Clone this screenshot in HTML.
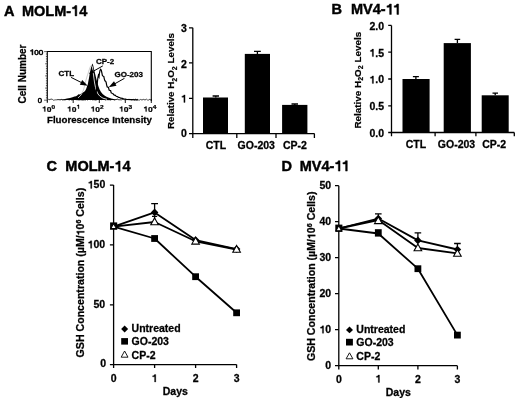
<!DOCTYPE html>
<html><head><meta charset="utf-8">
<style>
html,body{margin:0;padding:0;background:#fff;}
body{width:520px;height:402px;overflow:hidden;}
svg{display:block;filter:grayscale(1);}
text{font-family:"Liberation Sans",sans-serif;font-weight:bold;fill:#000;stroke:#000;stroke-width:0.28px;}
.t{font-size:14.5px;stroke-width:0.45px;}
.l{font-size:10.5px;}
.s{font-size:9px;}
.ax{stroke:#000;stroke-width:1.3;fill:none;}
.h1{fill:none;stroke:none;}
.p1{fill:#000;stroke:#000;}
.ln{stroke:#000;stroke-width:1.8;fill:none;stroke-linejoin:round;}
</style></head>
<body>
<svg width="520" height="402" viewBox="0 0 520 402">
<!-- Titles -->
<text class="t" x="4" y="15.9">A</text>
<text class="t" x="22" y="15.9">MOLM-<tspan class="h1">1</tspan>4</text><g><path d="M392 0L274 0L274 -490L88 -490L88 -592C190 -598 252 -632 268 -716L392 -716Z" transform="translate(71.13,15.90) scale(0.01450)" stroke-width="31.0" class="p1"></path></g>
<text class="t" x="331.5" y="14.4">B</text>
<text class="t" x="351" y="14.4">MV4-<tspan class="h1">1</tspan><tspan class="h1">1</tspan></text><g><path d="M392 0L274 0L274 -490L88 -490L88 -592C190 -598 252 -632 268 -716L392 -716Z" transform="translate(385.66,14.40) scale(0.01450)" stroke-width="31.0" class="p1"></path><path d="M392 0L274 0L274 -490L88 -490L88 -592C190 -598 252 -632 268 -716L392 -716Z" transform="translate(392.92,14.40) scale(0.01450)" stroke-width="31.0" class="p1"></path></g>
<text class="t" x="46.5" y="171.4">C</text>
<text class="t" x="65.3" y="171.4">MOLM-<tspan class="h1">1</tspan>4</text><g><path d="M392 0L274 0L274 -490L88 -490L88 -592C190 -598 252 -632 268 -716L392 -716Z" transform="translate(114.43,171.40) scale(0.01450)" stroke-width="31.0" class="p1"></path></g>
<text class="t" x="281.5" y="171.1">D</text>
<text class="t" x="299.7" y="171.1">MV4-<tspan class="h1">1</tspan><tspan class="h1">1</tspan></text><g><path d="M392 0L274 0L274 -490L88 -490L88 -592C190 -598 252 -632 268 -716L392 -716Z" transform="translate(334.36,171.10) scale(0.01450)" stroke-width="31.0" class="p1"></path><path d="M392 0L274 0L274 -490L88 -490L88 -592C190 -598 252 -632 268 -716L392 -716Z" transform="translate(341.62,171.10) scale(0.01450)" stroke-width="31.0" class="p1"></path></g>

<!-- ===== Panel A histogram ===== -->
<g>
<path d="M47.3 102.8V51.5H151.3V101" stroke="#000" stroke-width="1.1" fill="none"></path>
<path d="M44.1 51.6H47.3M45.9 54.0H47.3M45.9 56.5H47.3M45.9 58.9H47.3M45.9 61.3H47.3M45.1 63.8H47.3M45.9 66.2H47.3M45.9 68.6H47.3M45.9 71.0H47.3M45.9 73.5H47.3M45.1 75.9H47.3M45.9 78.3H47.3M45.9 80.8H47.3M45.9 83.2H47.3M45.9 85.6H47.3M45.1 88.1H47.3M45.9 90.5H47.3M45.9 92.9H47.3M45.9 95.3H47.3M45.9 97.8H47.3M44.1 100.2H47.3" stroke="#222" stroke-width="0.7"></path>
<path d="M47.3 99.6L47.5 99.3 L48.7 99.4 L50.0 99.8 L50.9 99.0 L52.3 99.3 L53.3 100.2 L54.5 100.0 L55.7 99.8 L56.6 99.8 L58.1 99.6 L59.5 99.8 L60.3 99.9 L61.6 99.4 L62.4 100.0 L63.6 99.9 L65.1 99.9 L66.7 99.5 L68.1 99.5 L69.6 100.1 L70.5 99.2 L71.5 100.2 L72.7 99.8 L73.7 99.6 L74.8 99.4 L76.1 99.7 L77.6 99.8 L79.1 100.0 L80.7 99.8 L81.7 100.0 L83.2 100.1 L84.5 99.9 L85.5 100.0 L86.7 99.3 L87.6 100.0 L89.2 99.1 L90.6 99.5 L91.5 99.4 L92.9 100.0 L93.8 99.7 L94.6 99.9 L95.7 100.1 L97.3 99.6 L98.9 99.4 L99.7 99.7 L100.5 99.2 L101.7 99.7 L102.6 99.1 L104.1 99.4 L105.6 100.1 L106.8 99.6 L108.0 99.8 L109.2 99.7 L110.5 100.1 L111.7 99.5 L113.1 99.3 L114.2 100.2 L115.4 99.7 L116.2 99.5 L117.5 99.0 L118.7 99.8 L119.6 99.8 L120.8 99.8 L121.8 99.8 L123.2 99.0 L124.1 99.8 L125.7 99.3 L126.8 99.7 L127.9 99.4 L128.9 99.4 L130.2 99.4 L131.3 99.9 L132.1 99.7 L133.5 99.4 L134.5 100.0 L135.5 99.2 L136.6 99.8 L137.5 99.4 L138.6 100.0 L139.7 100.0 L140.7 99.4 L142.0 100.1 L143.2 99.3 L144.0 99.6 L145.0 100.0 L146.5 99.2 L147.5 100.0 L148.8 100.0 L149.9 99.2 L150.9 100.0 L151.3 99.8" stroke="#444" stroke-width="1" fill="none"></path>
<path d="M73.2 99V103M99.3 99V103M125.3 99V103M151.3 99V103" stroke="#000" stroke-width="0.9"></path>
<!-- CTL filled -->
<path d="M56 100 L60 99.6 L64 99.2 L67 98.6 L70 98 L72.5 97.3 L74.5 96.6 L76 96.2 L77.5 95.3 L78.5 94.2 L80 94.6 L81.5 93.2 L83 92.6 L84.5 91.5 L85.5 90.3 L86.3 88.5 L87 86.5 L87.8 84.2 L88.4 81 L89 78 L89.6 74.5 L90.3 71 L91 67.5 L91.8 65 L92.5 63.6 L93.2 65.5 L93.9 68.5 L94.6 71.5 L95.3 74.5 L96 77.5 L96.8 80.5 L97.6 83.5 L98.5 86.5 L99.6 89.5 L101 92 L102.6 94 L104.5 95.6 L106.5 96.8 L109 97.8 L112 98.8 L116 99.5 L122 99.9 Z" fill="#000"></path>
<!-- CP-2 outline (gray/white) -->
<path d="M78 98 L81 95 L83.5 90 L85 84 L86 80 L87.2 76 L88.5 72 L89.8 68 L90.8 65.6" stroke="#c8c8c8" stroke-width="0.9" fill="none"></path>
<path d="M91.8 65.5 L92.6 68 L93.2 72.5 L93.9 78 L94.6 83 L95.5 87.5 L96.6 91 L98 94 L100 96.3 L103 98.2 L107 99.3" stroke="#e8e8e8" stroke-width="0.9" fill="none"></path>
<!-- GO-203 outline -->
<path d="M90 99.6 L93 98.8 L95 97 L96.2 92 L96.8 87.5 L97.4 82 L97.9 77.5 L98.4 75.3 L99 76.8 L99.5 73 L100 70.5 L100.7 69.4 L101.3 70.2 L101.8 72.5 L102.4 75.5 L103.2 76.2 L103.8 76.4 L104.3 78.8 L104.9 80.8 L105.6 81.2 L106.1 82.2 L106.6 84.8 L107.2 86.9 L107.9 87.1 L108.5 87.6 L109.1 90.1 L109.8 90.4 L110.6 90.6 L111.2 92.8 L112 93.3 L112.9 93.5 L113.5 94.6 L114.4 95.2 L115.4 95.3 L116.2 96.3 L117.4 96.6 L118.6 97.4 L119.6 97.5 L120.6 98.2 L122.4 98.3 L123.4 98.8 L125 99 L127 99.5 L131 99.6 L138 99.8" stroke="#000" stroke-width="1.2" fill="none" stroke-linejoin="miter"></path>
<!-- arrows -->
<path d="M71.1 77.4 L81.9 82.8" stroke="#000" stroke-width="1"></path>
<path d="M87.7 85.7 L79.8 84.7 L82.2 80.0 Z" fill="#000"></path>
<path d="M102.8 65.9 L92.3 71.8" stroke="#000" stroke-width="1"></path>
<path d="M88.8 73.8 L92.2 69.6 L94.1 73.1 Z" fill="#000"></path>
<path d="M124.5 78.3 L114.4 84.0" stroke="#000" stroke-width="1"></path>
<path d="M108.7 87.2 L114.0 81.3 L116.5 85.8 Z" fill="#000"></path>
<!-- labels -->
<text class="s" x="58.5" y="75.7" style="font-size:8px">CTL</text>
<text class="s" x="96" y="63.5" style="font-size:8px">CP-2</text>
<text class="s" x="114.5" y="76.9" style="font-size:8px">GO-203</text>
<text class="s" transform="translate(43.2,54.9) scale(0.95,0.88)" text-anchor="end" style="font-size:8.5px;font-weight:normal;stroke-width:0.6px"><tspan class="h1">1</tspan>00</text><g transform="translate(43.2,54.9) scale(0.95,0.88)"><path d="M392 0L274 0L274 -490L88 -490L88 -592C190 -598 252 -632 268 -716L392 -716Z" transform="translate(-14.16,0.00) scale(0.00850)" stroke-width="70.6" class="p1"></path></g>
<text class="s" transform="translate(42,102.7) scale(0.9,0.9)" text-anchor="end" style="font-size:8.5px;font-weight:normal;stroke-width:0.6px">0</text>
<g style="font-size:8.5px">
<text class="s" transform="translate(42,111.6) scale(1,0.82)" style="font-size:8.5px"><tspan class="h1">1</tspan>0<tspan dy="-3.6" style="font-size:6.5px">0</tspan></text><g transform="translate(42,111.6) scale(1,0.82)"><path d="M392 0L274 0L274 -490L88 -490L88 -592C190 -598 252 -632 268 -716L392 -716Z" transform="translate(0.00,0.00) scale(0.00850)" stroke-width="32.9" class="p1"></path></g>
<text class="s" transform="translate(67,111.6) scale(1,0.82)" style="font-size:8.5px"><tspan class="h1">1</tspan>0<tspan dy="-3.6" style="font-size:6.5px"><tspan class="h1">1</tspan></tspan></text><g transform="translate(67,111.6) scale(1,0.82)"><path d="M392 0L274 0L274 -490L88 -490L88 -592C190 -598 252 -632 268 -716L392 -716Z" transform="translate(0.00,0.00) scale(0.00850)" stroke-width="32.9" class="p1"></path><path d="M392 0L274 0L274 -490L88 -490L88 -592C190 -598 252 -632 268 -716L392 -716Z" transform="translate(9.47,-3.60) scale(0.00650)" stroke-width="43.1" class="p1"></path></g>
<text class="s" transform="translate(90.5,111.6) scale(1,0.82)" style="font-size:8.5px"><tspan class="h1">1</tspan>0<tspan dy="-3.6" style="font-size:6.5px">2</tspan></text><g transform="translate(90.5,111.6) scale(1,0.82)"><path d="M392 0L274 0L274 -490L88 -490L88 -592C190 -598 252 -632 268 -716L392 -716Z" transform="translate(0.00,0.00) scale(0.00850)" stroke-width="32.9" class="p1"></path></g>
<text class="s" transform="translate(119,111.6) scale(1,0.82)" style="font-size:8.5px"><tspan class="h1">1</tspan>0<tspan dy="-3.6" style="font-size:6.5px">3</tspan></text><g transform="translate(119,111.6) scale(1,0.82)"><path d="M392 0L274 0L274 -490L88 -490L88 -592C190 -598 252 -632 268 -716L392 -716Z" transform="translate(0.00,0.00) scale(0.00850)" stroke-width="32.9" class="p1"></path></g>
<text class="s" transform="translate(143.3,111.6) scale(1,0.82)" style="font-size:8.5px"><tspan class="h1">1</tspan>0<tspan dy="-3.6" style="font-size:6.5px">4</tspan></text><g transform="translate(143.3,111.6) scale(1,0.82)"><path d="M392 0L274 0L274 -490L88 -490L88 -592C190 -598 252 -632 268 -716L392 -716Z" transform="translate(0.00,0.00) scale(0.00850)" stroke-width="32.9" class="p1"></path></g>
</g>
<text class="l" x="47" y="123" style="font-size:9.7px">Fluorescence Intensity</text>
<text class="l" transform="translate(26.4,74) rotate(-90)" text-anchor="middle" style="font-size:10px">Cell Number</text>
</g>

<!-- ===== Panel A bar chart ===== -->
<g>
<path class="ax" d="M192.8 27.8V133.6H314.4"></path>
<path class="ax" d="M189 27.8H192.8M189 62.9H192.8M189 98.3H192.8M189 133.6H192.8"></path>
<path class="ax" d="M192.8 133.6V137.9M236.8 133.6V137.9M276 133.6V137.9M314.4 133.6V137.9"></path>
<rect x="203" y="97.5" width="25" height="36.1" fill="#000"></rect>
<rect x="244.8" y="53.9" width="25.2" height="79.7" fill="#000"></rect>
<rect x="282.1" y="104.9" width="25.3" height="28.7" fill="#000"></rect>
<path class="ax" d="M215.8 97.5V96M212.6 96H219"></path>
<path class="ax" d="M257.4 53.9V51.3M254 51.3H260.8"></path>
<path class="ax" d="M294.8 104.9V104M291.5 104H298"></path>
<text class="l" x="186.8" y="31.9" text-anchor="end">3</text>
<text class="l" x="186.8" y="67.5" text-anchor="end">2</text>
<text class="l" x="186.8" y="102.4" text-anchor="end"><tspan class="h1">1</tspan></text><g><path d="M392 0L274 0L274 -490L88 -490L88 -592C190 -598 252 -632 268 -716L392 -716Z" transform="translate(180.96,102.40) scale(0.01050)" stroke-width="26.7" class="p1"></path></g>
<text class="l" x="186.8" y="136.9" text-anchor="end">0</text>
<text class="l" x="216" y="148.8" text-anchor="middle">CTL</text>
<text class="l" x="256.3" y="148.8" text-anchor="middle">GO-203</text>
<text class="l" x="295" y="148.8" text-anchor="middle">CP-2</text>
<text class="l" transform="translate(174.3,81) rotate(-90)" text-anchor="middle" style="font-size:9.8px;stroke-width:0.2px">Relative H<tspan dy="2.5" style="font-size:7px">2</tspan><tspan dy="-2.5">O</tspan><tspan dy="2.5" style="font-size:7px">2</tspan><tspan dy="-2.5"> Levels</tspan></text>
</g>

<!-- ===== Panel B bar chart ===== -->
<g>
<path class="ax" d="M391.5 25.4V132.5H514.3"></path>
<path class="ax" d="M388.2 25.4H391.5M388.2 52.2H391.5M388.2 79H391.5M388.2 105.8H391.5M388.2 132.5H391.5"></path>
<path class="ax" d="M391.5 132.5V136.3M435.1 132.5V136.3M475.9 132.5V136.3M514.3 132.5V136.3"></path>
<rect x="402.5" y="79" width="27.1" height="53.5" fill="#000"></rect>
<rect x="443.7" y="43.1" width="27.2" height="89.4" fill="#000"></rect>
<rect x="481.7" y="95.3" width="27" height="37.2" fill="#000"></rect>
<path class="ax" d="M415.9 79V76.7M412.9 76.7H418.9"></path>
<path class="ax" d="M457.4 43.1V39.3M454.6 39.3H460.2"></path>
<path class="ax" d="M495.2 95.3V93.1M492.5 93.1H498"></path>
<text class="l" x="384" y="29.8" text-anchor="end">2.0</text>
<text class="l" x="384" y="56.6" text-anchor="end"><tspan class="h1">1</tspan>.5</text><g><path d="M392 0L274 0L274 -490L88 -490L88 -592C190 -598 252 -632 268 -716L392 -716Z" transform="translate(369.39,56.60) scale(0.01050)" stroke-width="26.7" class="p1"></path></g>
<text class="l" x="384" y="83.4" text-anchor="end"><tspan class="h1">1</tspan>.0</text><g><path d="M392 0L274 0L274 -490L88 -490L88 -592C190 -598 252 -632 268 -716L392 -716Z" transform="translate(369.39,83.40) scale(0.01050)" stroke-width="26.7" class="p1"></path></g>
<text class="l" x="384" y="110.2" text-anchor="end">0.5</text>
<text class="l" x="384" y="136.9" text-anchor="end">0.0</text>
<text class="l" x="416" y="147.5" text-anchor="middle">CTL</text>
<text class="l" x="456.5" y="147.5" text-anchor="middle">GO-203</text>
<text class="l" x="494.2" y="147.5" text-anchor="middle">CP-2</text>
<text class="l" transform="translate(360.5,80.2) rotate(-90)" text-anchor="middle" style="font-size:9.9px;stroke-width:0.2px">Relative H<tspan dy="2.5" style="font-size:7px">2</tspan><tspan dy="-2.5">O</tspan><tspan dy="2.5" style="font-size:7px">2</tspan><tspan dy="-2.5"> Levels</tspan></text>
</g>

<!-- ===== Panel C line chart ===== -->
<g>
<path class="ax" d="M113.6 185.1V364.6H236.6" stroke-width="1.5"></path>
<path class="ax" d="M109.9 185.1H113.6M109.9 244.9H113.6M109.9 304.8H113.6M109.9 364.6H113.6"></path>
<path class="ax" d="M113.6 364.6V367.9M154.6 364.6V367.9M195.6 364.6V367.9M236.6 364.6V367.9"></path>
<text class="l" x="105.3" y="188.4" text-anchor="end"><tspan class="h1">1</tspan>50</text><g><path d="M392 0L274 0L274 -490L88 -490L88 -592C190 -598 252 -632 268 -716L392 -716Z" transform="translate(87.77,188.40) scale(0.01050)" stroke-width="26.7" class="p1"></path></g>
<text class="l" x="105.2" y="248.3" text-anchor="end"><tspan class="h1">1</tspan>00</text><g><path d="M392 0L274 0L274 -490L88 -490L88 -592C190 -598 252 -632 268 -716L392 -716Z" transform="translate(87.67,248.30) scale(0.01050)" stroke-width="26.7" class="p1"></path></g>
<text class="l" x="105.2" y="307.6" text-anchor="end">50</text>
<text class="l" x="106" y="367.3" text-anchor="end">0</text>
<text class="l" x="113.6" y="382" text-anchor="middle">0</text>
<text class="l" x="154.6" y="382" text-anchor="middle"><tspan class="h1">1</tspan></text><g><path d="M392 0L274 0L274 -490L88 -490L88 -592C190 -598 252 -632 268 -716L392 -716Z" transform="translate(151.68,382.00) scale(0.01050)" stroke-width="26.7" class="p1"></path></g>
<text class="l" x="195.6" y="382" text-anchor="middle">2</text>
<text class="l" x="236.6" y="382" text-anchor="middle">3</text>
<text class="l" x="175.3" y="395" text-anchor="middle">Days</text>
<text class="l" transform="translate(84.3,272.6) rotate(-90)" text-anchor="middle" style="font-size:10.6px">GSH Concentration (µM/<tspan class="h1">1</tspan>0<tspan dy="-3.5" style="font-size:7px">6</tspan><tspan dy="3.5"> Cells)</tspan></text><g transform="translate(84.3,272.6) rotate(-90)"><path d="M392 0L274 0L274 -490L88 -490L88 -592C190 -598 252 -632 268 -716L392 -716Z" transform="translate(37.27,0.00) scale(0.01060)" stroke-width="26.4" class="p1"></path></g>
<!-- error bars -->
<path class="ax" d="M154.6 212.4V203.6M151.2 203.6H158" stroke-width="1.5"></path>
<path class="ax" d="M154.6 222V216.4M152 216.4H157.2"></path>
<!-- lines -->
<path class="ln" d="M113.6 226.6L154.6 212.4L195.6 240.1L236.6 249.1"></path>
<path class="ln" d="M113.6 226.6L154.6 238.5L195.6 276.7L236.6 312.8"></path>
<path class="ln" d="M113.6 226.6L154.6 222L195.6 241.3L236.6 249.5"></path>
<!-- markers: untreated diamonds -->
<g fill="#000">
<rect x="110.1" y="222.4" width="7.1" height="7.3"></rect>
<path d="M154.6 208.6L158.4 212.4L154.6 216.2L150.8 212.4Z"></path>
<path d="M195.6 236.3L199.4 240.1L195.6 243.9L191.8 240.1Z"></path>
<path d="M236.6 245.3L240.4 249.1L236.6 252.9L232.8 249.1Z"></path>
<rect x="151.2" y="235.1" width="6.8" height="6.8"></rect>
<rect x="192.2" y="273.3" width="6.8" height="6.8"></rect>
<rect x="233.2" y="309.4" width="6.8" height="6.8"></rect>
</g>
<g fill="#fff" stroke="#000" stroke-width="1.1">
<path d="M113.6 223.5L116.4 228.6H110.8Z"></path>
<path d="M154.6 218L158.4 224.8H150.8Z"></path>
<path d="M195.6 237.3L199.4 244.1H191.8Z"></path>
<path d="M236.6 245.5L240.4 252.3H232.8Z"></path>
</g>
<!-- legend -->
<path d="M124.6 325.6L128.1 329L124.6 332.4L121.1 329Z" fill="#000"></path>
<rect x="121.2" y="338.1" width="6.8" height="6.5" fill="#000"></rect>
<path d="M124.6 351L128 357.2H121.2Z" fill="#fff" stroke="#000" stroke-width="0.9"></path>
<text class="l" x="131.6" y="332.4">Untreated</text>
<text class="l" x="131.6" y="344.6">GO-203</text>
<text class="l" x="131.6" y="359">CP-2</text>
</g>

<!-- ===== Panel D line chart ===== -->
<g>
<path class="ax" d="M338.8 185.7V365.7H457.4" stroke-width="1.5"></path>
<path class="ax" d="M335 185.7H338.8M335 221.7H338.8M335 257.7H338.8M335 293.7H338.8M335 329.7H338.8M335 365.7H338.8"></path>
<path class="ax" d="M338.8 365.7V369.4M378.3 365.7V369.4M417.9 365.7V369.4M457.4 365.7V369.4"></path>
<text class="l" x="331.2" y="189.3" text-anchor="end">50</text>
<text class="l" x="331.2" y="225.3" text-anchor="end">40</text>
<text class="l" x="331.2" y="261.3" text-anchor="end">30</text>
<text class="l" x="331.2" y="297.3" text-anchor="end">20</text>
<text class="l" x="331.2" y="333.3" text-anchor="end"><tspan class="h1">1</tspan>0</text><g><path d="M392 0L274 0L274 -490L88 -490L88 -592C190 -598 252 -632 268 -716L392 -716Z" transform="translate(319.51,333.30) scale(0.01050)" stroke-width="26.7" class="p1"></path></g>
<text class="l" x="331.2" y="369.3" text-anchor="end">0</text>
<text class="l" x="338.8" y="382.5" text-anchor="middle">0</text>
<text class="l" x="378.3" y="382.5" text-anchor="middle"><tspan class="h1">1</tspan></text><g><path d="M392 0L274 0L274 -490L88 -490L88 -592C190 -598 252 -632 268 -716L392 -716Z" transform="translate(375.38,382.50) scale(0.01050)" stroke-width="26.7" class="p1"></path></g>
<text class="l" x="417.9" y="382.5" text-anchor="middle">2</text>
<text class="l" x="457.4" y="382.5" text-anchor="middle">3</text>
<text class="l" x="398.3" y="395.6" text-anchor="middle">Days</text>
<text class="l" transform="translate(315.3,276.3) rotate(-90)" text-anchor="middle" style="font-size:10.6px">GSH Concentration (µM/<tspan class="h1">1</tspan>0<tspan dy="-3.5" style="font-size:7px">6</tspan><tspan dy="3.5"> Cells)</tspan></text><g transform="translate(315.3,276.3) rotate(-90)"><path d="M392 0L274 0L274 -490L88 -490L88 -592C190 -598 252 -632 268 -716L392 -716Z" transform="translate(37.27,0.00) scale(0.01060)" stroke-width="26.4" class="p1"></path></g>
<!-- error bars -->
<path class="ax" d="M378.3 218.5V213.8M375 213.8H381.6" stroke-width="1.5"></path>
<path class="ax" d="M417.9 240.4V232.8M414.6 232.8H421.2" stroke-width="1.5"></path>
<path class="ax" d="M457.4 249.5V243.5M454.1 243.5H460.7" stroke-width="1.5"></path>
<!-- lines -->
<path class="ln" d="M338.8 228.5L378.3 218.5L417.9 240.4L457.4 249.5"></path>
<path class="ln" d="M338.8 228.5L378.3 233.5L417.9 268.7L457.4 335.1"></path>
<path class="ln" d="M338.8 228.5L378.3 220L417.9 248L457.4 253.4"></path>
<g fill="#000">
<rect x="335.3" y="224.6" width="7.1" height="7.3"></rect>
<path d="M378.3 214.7L382.1 218.5L378.3 222.3L374.5 218.5Z"></path>
<path d="M417.9 236.6L421.7 240.4L417.9 244.2L414.1 240.4Z"></path>
<path d="M457.4 245.7L461.2 249.5L457.4 253.3L453.6 249.5Z"></path>
<rect x="374.9" y="229.2" width="6.8" height="7.4"></rect>
<rect x="414.5" y="265.3" width="6.8" height="6.8"></rect>
<rect x="454" y="331.7" width="6.8" height="6.8"></rect>
</g>
<g fill="#fff" stroke="#000" stroke-width="1.1">
<path d="M338.8 225.6L341.6 230.7H336Z"></path>
<path d="M378.3 216.8L382.1 223.6H374.5Z"></path>
<path d="M417.9 244L421.7 250.8H414.1Z"></path>
<path d="M457.4 249.4L461.2 256.2H453.6Z"></path>
</g>
<path d="M349.5 326.5L353 329.9L349.5 333.3L346 329.9Z" fill="#000"></path>
<rect x="346" y="338.8" width="6.9" height="6.7" fill="#000"></rect>
<path d="M349.5 352.8L352.9 358.8H346.1Z" fill="#fff" stroke="#000" stroke-width="0.9"></path>
<text class="l" x="356.3" y="333.2">Untreated</text>
<text class="l" x="356.3" y="345.5">GO-203</text>
<text class="l" x="356.3" y="359.6">CP-2</text>
</g>
</svg>

</body></html>
